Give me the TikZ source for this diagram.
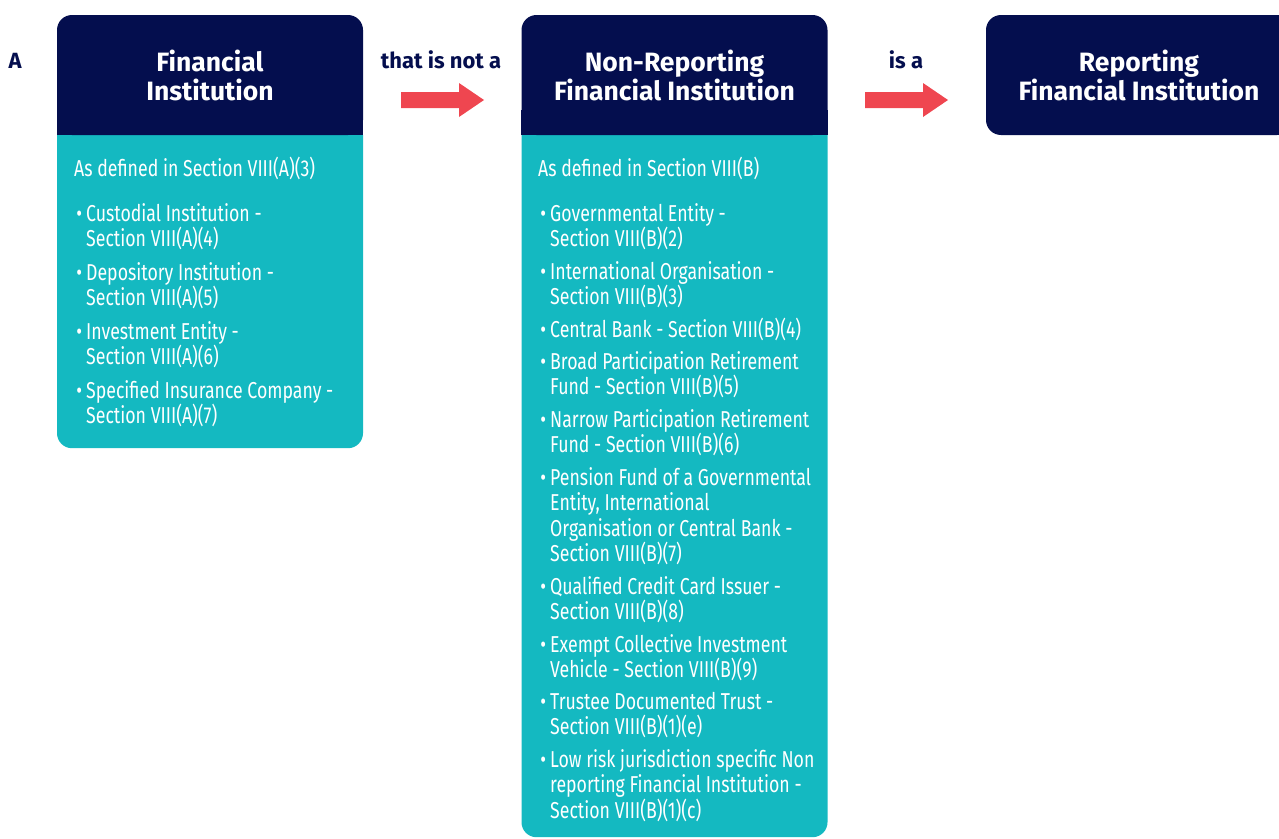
\documentclass[tikz,border=0pt]{standalone}
\usepackage{fontspec}
\setmainfont{Fira Sans}
\newfontfamily\listfont[FakeStretch=0.77]{Fira Sans}
\usetikzlibrary{positioning}

\definecolor{fnavy}{HTML}{040E4E}
\definecolor{fteal}{HTML}{14B9C1}
\definecolor{fred}{HTML}{EF4650}

\tikzset{
  head/.style={fill=fnavy, rounded corners=15pt, minimum width=306pt, minimum height=120pt,
    text=white, align=center, font=\fontsize{26.5}{29}\selectfont\bfseries},
  body/.style={fill=fteal, rounded corners=15pt, minimum width=306pt, anchor=north},
  word/.style={anchor=base, text=fnavy, font=\fontsize{22}{26}\selectfont\bfseries},
  entry/.style={anchor=north west, yshift=20pt, align=left, inner sep=0pt, text=white,
    font=\listfont\fontsize{23}{25.5}\selectfont},
}
\newcommand\tp{\rule{0pt}{20pt}}
\newcommand\bul{\tp\llap{\textbullet\hspace{4pt}}}

\begin{document}
\begin{tikzpicture}[x=1pt,y=-1pt]
  \useasboundingbox (0,0) rectangle (1279,838);
  \clip (0,0) rectangle (1279,838);

  % bodies
  \node (fibody) [body, minimum height=328pt] at (210,120) {};
  \node (nrbody) [body, minimum height=717pt] at (674.5,120) {};

  % headers
  \node (fi) [head] at (210,75) {Financial\\Institution};
  \node (nr) [head] at (674.5,75) {Non-Reporting\\Financial Institution};
  \node (rfi) [head] at (1139,75) {Reporting\\Financial Institution};
  \fill[fnavy] ([yshift=25pt]fi.south west) rectangle (fi.south east);
  \fill[fnavy] ([yshift=25pt]nr.south west) rectangle (nr.south east);

  % words and arrows
  \node (a) [word] at (15,68) {A};
  \node (nota) [word] at (441,68) {that is not a};
  \node (isa) [word] at (906,68) {is a};
  \foreach \x in {401,865}
    \fill[fred] (\x,92) -- (\x+58,92) -- (\x+58,83) -- (\x+83,100) -- (\x+58,117)
      -- (\x+58,108) -- (\x,108) -- cycle;

  % financial institution list
  \node (fi0) [entry] at (74,176) {\tp As defined in Section VIII(A)(3)};
  \node (fi1) [entry] at (86,221) {\bul Custodial Institution -\\Section VIII(A)(4)};
  \node (fi2) [entry] at (86,280) {\bul Depository Institution -\\Section VIII(A)(5)};
  \node (fi3) [entry] at (86,339) {\bul Investment Entity -\\Section VIII(A)(6)};
  \node (fi4) [entry] at (86,398) {\bul Specified Insurance Company -\\Section VIII(A)(7)};

  % non-reporting list
  \node (nr0) [entry] at (538,176) {\tp As defined in Section VIII(B)};
  \node (nr1) [entry] at (550,221) {\bul Governmental Entity -\\Section VIII(B)(2)};
  \node (nr2) [entry] at (550,279) {\bul International Organisation -\\Section VIII(B)(3)};
  \node (nr3) [entry] at (550,337) {\bul Central Bank - Section VIII(B)(4)};
  \node (nr4) [entry] at (550,369) {\bul Broad Participation Retirement\\Fund - Section VIII(B)(5)};
  \node (nr5) [entry] at (550,427) {\bul Narrow Participation Retirement\\Fund - Section VIII(B)(6)};
  \node (nr6) [entry] at (550,485) {\bul Pension Fund of a Governmental\\Entity, International\\Organisation or Central Bank -\\Section VIII(B)(7)};
  \node (nr7) [entry] at (550,594) {\bul Qualified Credit Card Issuer -\\Section VIII(B)(8)};
  \node (nr8) [entry] at (550,652) {\bul Exempt Collective Investment\\Vehicle - Section VIII(B)(9)};
  \node (nr9) [entry] at (550,709) {\bul Trustee Documented Trust -\\Section VIII(B)(1)(e)};
  \node (nr10) [entry] at (550,767) {\bul Low risk jurisdiction specific Non\\reporting Financial Institution -\\Section VIII(B)(1)(c)};
\end{tikzpicture}
\end{document}
